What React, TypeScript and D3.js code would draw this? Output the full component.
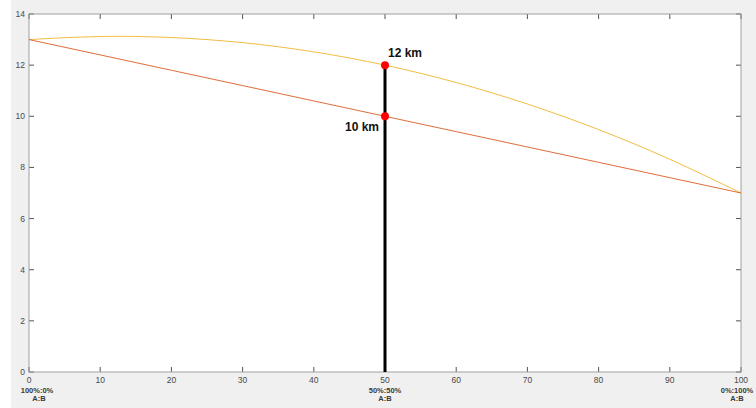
import React from 'react';
import * as d3 from 'd3';

// share of A in the mix (x axis)
const mixShare = [0, 10, 20, 30, 40, 50, 60, 70, 80, 90, 100];
// upper (yellow) curve
const curveUpper = [13, 13.12, 13.08, 12.88, 12.52, 12, 11.32, 10.48, 9.48, 8.32, 7];
// lower (red) straight line
const curveLower = [13, 12.4, 11.8, 11.2, 10.6, 10, 9.4, 8.8, 8.2, 7.6, 7];

const xTicks = [0, 10, 20, 30, 40, 50, 60, 70, 80, 90, 100];
const yTicks = [0, 2, 4, 6, 8, 10, 12, 14];

const mixLabels = [
  { x: 0, top: '100%:0%', bottom: 'A:B' },
  { x: 50, top: '50%:50%', bottom: 'A:B' },
  { x: 100, top: '0%:100%', bottom: 'A:B' },
];

const marker = { x: 50, high: 12, low: 10 };
const markerLabels = [
  { y: 12, text: '12 km', side: 'right' },
  { y: 10, text: '10 km', side: 'left' },
];

const W = 756;
const H = 408;
const left = 29, right = 741, top = 14, bottom = 372;

export default function App() {
  const x = d3.scaleLinear().domain([0, 100]).range([left, right]);
  const y = d3.scaleLinear().domain([0, 14]).range([bottom, top]);

  const upper = d3.line<number>()
    .x((_, i) => x(mixShare[i]))
    .y((d) => y(d))
    .curve(d3.curveNatural)(curveUpper);
  const lower = d3.line<number>()
    .x((_, i) => x(mixShare[i]))
    .y((d) => y(d))(curveLower);

  const tickColor = '#4a4a4a';
  const font = 'Arial, "Liberation Sans", sans-serif';

  return (
    <svg width={W} height={H} style={{ position: 'absolute', left: 0, top: 0 }} fontFamily={font}>
      <rect x={0} y={0} width={W} height={H} fill="#ffffff" />
      <rect x={11} y={0} width={W - 11} height={H} fill="#f0f0f0" />
      <rect x={left} y={top} width={right - left} height={bottom - top} fill="#ffffff" />

      {/* ticks, inside, mirrored on all sides */}
      {xTicks.map((t) => (
        <g key={'x' + t}>
          <line x1={x(t)} x2={x(t)} y1={bottom} y2={bottom - 5} stroke="#262626" strokeWidth={0.8} />
          <line x1={x(t)} x2={x(t)} y1={top} y2={top + 5} stroke="#262626" strokeWidth={0.8} />
          <text x={x(t)} y={383} fontSize={8.5} fill={tickColor} textAnchor="middle">{t}</text>
        </g>
      ))}
      {yTicks.map((t) => (
        <g key={'y' + t}>
          <line x1={left} x2={left + 5} y1={y(t)} y2={y(t)} stroke="#262626" strokeWidth={0.8} />
          <line x1={right} x2={right - 5} y1={y(t)} y2={y(t)} stroke="#262626" strokeWidth={0.8} />
          <text x={25} y={y(t) + 3} fontSize={8.5} fill={tickColor} textAnchor="end">{t}</text>
        </g>
      ))}

      <rect x={left} y={top} width={right - left} height={bottom - top} fill="none" stroke="#a0a0a0" strokeWidth={1} />

      {mixLabels.map((m) => {
        const cx = Math.min(Math.max(x(m.x), 37), 737);
        const shift = m.x === 0 ? 2 : 0;
        return (
          <g key={'m' + m.x} fontWeight="bold" fontSize={7.5} fill="#3a3a3a" textAnchor="middle">
            <text x={cx} y={393}>{m.top}</text>
            <text x={cx + shift} y={400.5}>{m.bottom}</text>
          </g>
        );
      })}

      <path d={upper || ''} fill="none" stroke="#EDB120" strokeWidth={1} strokeOpacity={0.85} />
      <path d={lower || ''} fill="none" stroke="#D95319" strokeWidth={1} strokeOpacity={0.85} />

      <line x1={x(marker.x)} x2={x(marker.x)} y1={y(0)} y2={y(marker.high)} stroke="#000000" strokeWidth={3} />
      <circle cx={x(marker.x)} cy={y(marker.high)} r={4} fill="#ff0000" />
      <circle cx={x(marker.x)} cy={y(marker.low)} r={4} fill="#ff0000" />

      {markerLabels.map((l) => (
        <text
          key={l.text}
          x={l.side === 'right' ? x(marker.x) + 3 : x(marker.x) - 6}
          y={l.side === 'right' ? y(l.y) - 8 : y(l.y) + 15}
          fontSize={12}
          fontWeight="bold"
          fill="#111111"
          textAnchor={l.side === 'right' ? 'start' : 'end'}
        >
          {l.text}
        </text>
      ))}
    </svg>
  );
}
